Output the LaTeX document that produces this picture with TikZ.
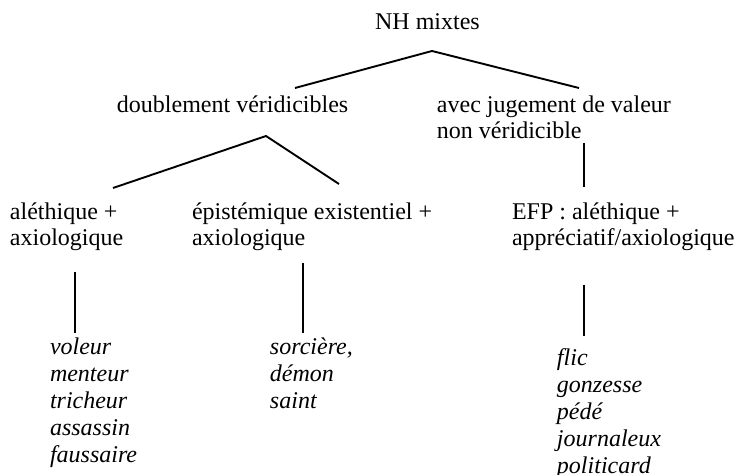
\documentclass[tikz,border=0pt]{standalone}
\usepackage{fontspec}
\setmainfont{Liberation Serif}
\newcommand{\lbl}[2]{\begin{tabular}[t]{@{}l@{}}#2\end{tabular}}
\begin{document}
\begin{tikzpicture}[x=0.5pt,y=-0.5pt,
  txt/.style={inner sep=0pt, outer sep=0pt, anchor=base west,
    font=\fontsize{12}{12.75}\selectfont},
  lst/.style={inner sep=0pt, outer sep=0pt, anchor=base west,
    font=\fontsize{12}{13.5}\selectfont\itshape},
  branch/.style={line width=0.95pt, line cap=butt}]
\useasboundingbox (0,0) rectangle (736,475);
\clip (0,0) rectangle (736,475);

% headings
\node[txt, anchor=base] (root) at (427.5,30) {NH mixtes};
\node[txt] (dv)  at (117,113) {doublement véridicibles};
\node[txt] (avj) at (437,113) {\lbl{}{avec jugement de valeur\\non véridicible}};
\node[txt] (ale) at (10,220)  {\lbl{}{aléthique +\\axiologique}};
\node[txt] (epi) at (192,220) {\lbl{}{épistémique existentiel +\\axiologique}};
\node[txt] (efp) at (512,220) {\lbl{}{EFP : aléthique +\\appréciatif/axiologique}};

% word lists
\node[lst] (l1) at (50,355)  {\lbl{}{voleur\\menteur\\tricheur\\assassin\\faussaire}};
\node[lst] (l2) at (270,355) {\lbl{}{sorcière,\\démon\\saint}};
\node[lst] (l3) at (557,366) {\lbl{}{flic\\gonzesse\\pédé\\journaleux\\politicard}};

% branch joints
\coordinate (root-j) at (432,51);
\coordinate (dv-up)  at (295,88);
\coordinate (avj-up) at (579,88);
\coordinate (dv-j)   at (266,136);
\coordinate (ale-up) at (113,188);
\coordinate (epi-up) at (339,184);
\coordinate (avj-dn) at (584,143);
\coordinate (efp-up) at (584,187);
\coordinate (ale-dn) at (75,272);
\coordinate (l1-up)  at (75,333);
\coordinate (epi-dn) at (303,263);
\coordinate (l2-up)  at (303,333);
\coordinate (efp-dn) at (584,285);
\coordinate (l3-up)  at (584,336);

\draw[branch] (dv-up) -- (root-j) -- (avj-up);
\draw[branch] (ale-up) -- (dv-j) -- (epi-up);
\draw[branch] (avj-dn) -- (efp-up);
\draw[branch] (ale-dn) -- (l1-up);
\draw[branch] (epi-dn) -- (l2-up);
\draw[branch] (efp-dn) -- (l3-up);
\end{tikzpicture}
\end{document}
